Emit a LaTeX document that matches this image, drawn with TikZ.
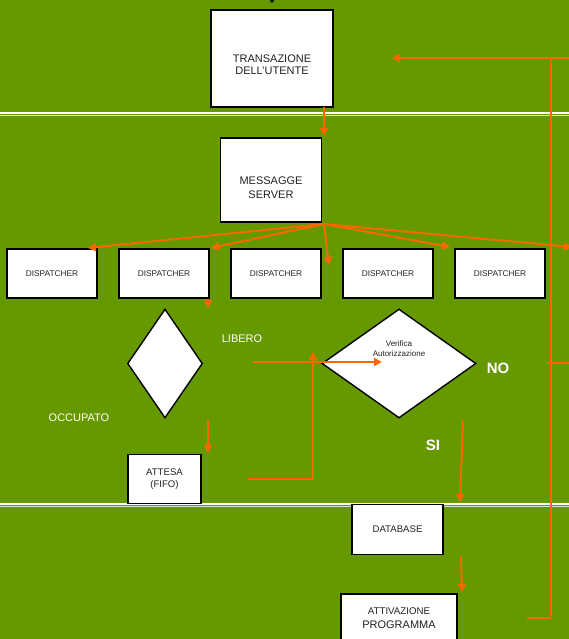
\documentclass[tikz,border=0pt]{standalone}
\usepackage{fontspec}
\setmainfont{Liberation Sans}
\usetikzlibrary{shapes.geometric,arrows.meta}
\definecolor{bg}{HTML}{669900}
\definecolor{org}{HTML}{FF6600}
\definecolor{ink}{HTML}{222222}
\begin{document}
\begin{tikzpicture}[x=1pt,y=-1pt,
  box/.style={draw=black,line width=1.8pt,fill=white,inner sep=0pt,rectangle},
  dia/.style={draw=black,line width=1.4pt,fill=white,inner sep=0pt,diamond},
  txt/.style={text=ink,align=center,inner sep=0pt},
  wtxt/.style={text=white,inner sep=0pt},
  oarr/.style={draw=org,line width=1.9pt,-{Triangle[length=8pt,width=8pt]}},
  oline/.style={draw=org,line width=1.9pt},
  sep/.style={draw=white,line width=1.4pt}]
\useasboundingbox (0,0) rectangle (569,639);
\clip (0,0) rectangle (569,639);
\fill[bg] (0,0) rectangle (569,639);
% separator lines
\draw[sep] (0,113) -- (569,113);
\draw[white!75!bg,line width=0.6pt] (0,115.2) -- (569,115.2);
\draw[sep] (0,504) -- (569,504);
\draw[white!75!bg,line width=0.6pt] (0,506.2) -- (569,506.2);
% boxes
\node[box,minimum width=122pt,minimum height=97pt] (tr) at (272,58.3) {};
\node[txt,font=\fontsize{11}{12.7}\selectfont] (trt) at ([yshift=-6.5pt]tr.center) {TRANSAZIONE\\DELL'UTENTE};
\node[box,minimum width=101pt,minimum height=84pt] (ms) at (271,180) {};
\node[txt,font=\fontsize{11}{14}\selectfont] (mst) at ([yshift=-7.5pt]ms.center) {MESSAGGE\\SERVER};
\foreach \i/\x in {1/52,2/164,3/276,4/388,5/500}{
  \node[box,minimum width=90pt,minimum height=49pt,txt,font=\fontsize{8.3}{10}\selectfont] (d\i) at (\x,273.5) {DISPATCHER};
}
\node[dia,minimum width=75pt,minimum height=109pt] (dl) at (165,363.5) {};
\node[dia,minimum width=154pt,minimum height=109pt] (dr) at (399,363.5) {};
\node[txt,font=\fontsize{8}{10}\selectfont] (drt) at (399,349) {Verifica\\Autorizzazione};
\node[box,minimum width=73pt,minimum height=49pt,txt,font=\fontsize{9.6}{11.5}\selectfont] (att) at (164.5,479) {ATTESA\\(FIFO)};
\node[box,minimum width=91pt,minimum height=50pt,txt,font=\fontsize{9.6}{11.5}\selectfont] (db) at (397.5,529.5) {DATABASE};
\node[box,minimum width=116pt,minimum height=56pt] (ap) at (399,622) {};
\node[txt,font=\fontsize{9.7}{11}\selectfont] (apt1) at (399,611.5) {ATTIVAZIONE};
\node[txt,font=\fontsize{11}{12}\selectfont] (apt2) at (399,625) {PROGRAMMA};
% labels
\node[wtxt,font=\fontsize{11}{13}\selectfont] (lib) at (242,339) {LIBERO};
\node[wtxt,font=\fontsize{11}{13}\selectfont] (occ) at (79,418) {OCCUPATO};
\node[wtxt,font=\bfseries\fontsize{15}{17}\selectfont] (no) at (498,368) {NO};
\node[wtxt,font=\bfseries\fontsize{15}{17}\selectfont] (si) at (433,445) {SI};
% coordinates
\coordinate (topin) at (272,-6);
\coordinate (topend) at (272,3);
\coordinate (trout) at (324,107);
\coordinate (msin) at (324,136);
\coordinate (fan) at (324,224);
\coordinate (f1) at (88,248);
\coordinate (f2) at (211,248);
\coordinate (f3) at (329,265);
\coordinate (f4) at (450,247);
\coordinate (f5) at (572,247);
\coordinate (d2a) at (208,298.5);
\coordinate (d2b) at (208,308);
\coordinate (dla) at (208,420);
\coordinate (dlb) at (208,453);
\coordinate (ra) at (572,58);
\coordinate (rc) at (551,58);
\coordinate (rtip) at (392,58);
\coordinate (rb) at (551,618);
\coordinate (rd) at (527,618);
\coordinate (tka) at (547,363);
\coordinate (tkb) at (569,363);
\coordinate (la) at (253,362);
\coordinate (lb) at (382,362);
\coordinate (aa) at (248,479);
\coordinate (ab) at (313,479);
\coordinate (ac) at (313,352);
\coordinate (sa) at (463,420);
\coordinate (sb) at (460,502);
\coordinate (ba) at (461,556);
\coordinate (bb) at (462,592);
% connectors
\draw[black,line width=1pt,-{Triangle[length=4pt,width=6pt]}] (topin) -- (topend);
\draw[oarr] (trout) -- (msin);
\foreach \t in {f1,f2,f3,f4,f5}{\draw[oarr] (fan) -- (\t);}
\draw[oarr] (d2a) -- (d2b);
\draw[oarr] (dla) -- (dlb);
\draw[oline] (rd) -- (rb) -- (rc);
\draw[oarr] (ra) -- (rtip);
\draw[oline] (tka) -- (tkb);
\draw[oarr] (la) -- (lb);
\draw[oarr] (aa) -- (ab) -- (ac);
\draw[oarr] (sa) -- (sb);
\draw[oarr] (ba) -- (bb);
\end{tikzpicture}
\end{document}
